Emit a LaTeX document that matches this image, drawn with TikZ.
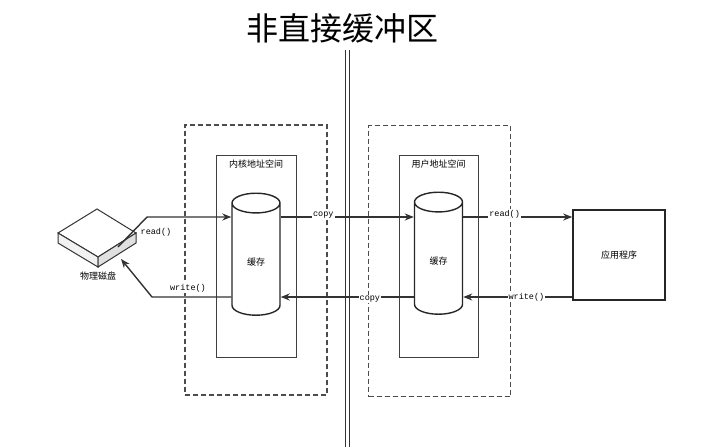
\documentclass[tikz,border=0pt]{standalone}
\usepackage{fontspec}
\newfontfamily\cjk{Noto Sans CJK SC}
\newfontfamily\mono{Liberation Mono}
\usetikzlibrary{shapes.geometric,arrows.meta}
\begin{document}
\begin{tikzpicture}[x=1pt,y=-1pt,
  dbox/.style={draw=black!70,line width=1.6pt,dash pattern=on 5pt off 3pt},
  ibox/.style={draw=black!75,line width=1pt},
  cyl/.style={cylinder,shape border rotate=90,draw=black!85,line width=1.4pt,minimum width=48pt,minimum height=122pt,aspect=0.8,font=\cjk\fontsize{9}{10}\selectfont},
  arr/.style={draw=black!80,line width=1.4pt,-{Stealth[length=9pt,width=7pt]}},
  lbl/.style={font=\mono\fontsize{8.5}{9}\selectfont,inner sep=1pt,fill=white},
  cj/.style={font=\cjk\fontsize{9}{10}\selectfont}]
\path[use as bounding box] (0,0) rectangle (701,447);
\node[font=\cjk\fontsize{32}{34}\selectfont] (title) at (342,28) {非直接缓冲区};
\draw[black!80,line width=0.7pt] (345,50) -- (345,447) (349,50) -- (349,447);
\node[dbox,minimum width=142pt,minimum height=270pt] (k) at (256,260) {};
\node[ibox,minimum width=80pt,minimum height=202pt] (ki) at (256,256) {};
\node[cj,anchor=north] at (ki.north) [yshift=-2pt] {内核地址空间};
\node[dbox,minimum width=142pt,minimum height=271pt] (u) at (439.5,261) {};
\node[ibox,minimum width=79pt,minimum height=202pt] (ui) at (438.5,256) {};
\node[cj,anchor=north] at (ui.north) [yshift=-2pt] {用户地址空间};
\node[cyl] (c1) at (256,262) {缓存};
\node[cyl] (c2) at (438.5,261) {缓存};
\node[draw=black!85,line width=1.6pt,minimum width=92pt,minimum height=90pt,cj] (app) at (619,255) {应用程序};
% disk
\draw[black!80,line width=1pt,fill=white] (58,233) -- (97,209) -- (136,233) -- (98,257) -- cycle;
\draw[black!80,line width=1pt,fill=black!5] (58,233) -- (58,243) -- (98,267) -- (98,257) -- cycle;
\draw[black!80,line width=1pt,fill=black!12] (98,257) -- (136,233) -- (136,243) -- (98,267) -- cycle;
\node[cj] (dl) at (98,276) {物理磁盘};
\coordinate (r0) at (118,247);
\coordinate (w0) at (121,259);
\draw[arr] (r0) -- (147,217) -- (c1.west |- 0,217);
\node[lbl,fill=none] at (156,232) {read()};
\draw[arr] (c1.west |- 0,297) -- (152,297) -- (w0);
\node[lbl] at (188,288) {write()};
\draw[arr] (c1.east |- 0,217) -- (c2.west |- 0,217) node[lbl,pos=0.32,above=-3pt] {copy};
\draw[arr] (c2.west |- 0,297) -- (c1.east |- 0,297) node[lbl,pos=0.33,below=-3pt] {copy};
\draw[arr] (c2.east |- 0,217) -- (app.west |- 0,217) node[lbl,pos=0.38,above=-3pt] {read()};
\draw[arr] (app.west |- 0,297) -- (c2.east |- 0,297) node[lbl,pos=0.42] {write()};
\end{tikzpicture}
\end{document}
